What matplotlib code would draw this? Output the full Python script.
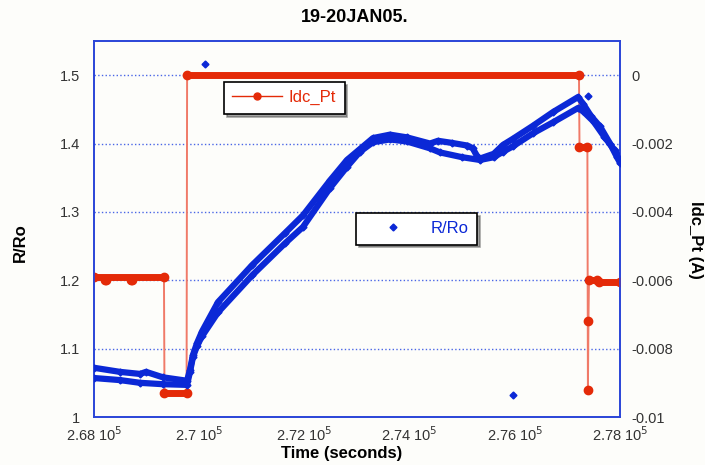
import matplotlib
matplotlib.use("Agg")
import matplotlib.pyplot as plt
from matplotlib.lines import Line2D

plt.rcParams['font.family'] = ['Liberation Sans', 'DejaVu Sans']

# --- data ---
# R/Ro, two interleaved tracks (time in s)
rr_t_a = [268000, 268494, 268875, 268990, 269312, 269768, 269825, 269882, 269958, 270053,
          270357, 271004, 271631, 271973, 272487, 272810, 273057, 273304, 273627, 273951,
          274388, 274540, 274800, 275100, 275200, 275280, 275338, 275600, 275776,
          275966, 276346, 276726, 277202, 277300, 277450, 277620, 277810, 277943, 278000]
rr_a = [1.072, 1.066, 1.063, 1.066, 1.058, 1.053, 1.069, 1.091, 1.108, 1.125,
        1.168, 1.222, 1.269, 1.295, 1.346, 1.376, 1.392, 1.408, 1.413, 1.409,
        1.400, 1.404, 1.401, 1.397, 1.393, 1.382, 1.378, 1.385, 1.398,
        1.407, 1.426, 1.446, 1.468, 1.458, 1.440, 1.425, 1.400, 1.380, 1.372]

rr_t_b = [268000, 268494, 268875, 269312, 269768, 269825, 269882, 269958, 270053,
          270357, 271004, 271631, 271973, 272487, 272810, 273057, 273304, 273627, 273951,
          274388, 274578, 275000, 275338, 275600, 275776, 275966, 276346, 276726, 277202,
          277300, 277500, 277700, 277900, 278000]
rr_b = [1.057, 1.054, 1.050, 1.048, 1.047, 1.066, 1.088, 1.104, 1.118,
        1.153, 1.207, 1.254, 1.278, 1.335, 1.366, 1.388, 1.402, 1.406, 1.403,
        1.393, 1.387, 1.380, 1.376, 1.380, 1.388, 1.396, 1.415, 1.431, 1.452,
        1.447, 1.432, 1.410, 1.390, 1.378]

# stray R/Ro points
rr_out_t = [270110, 275966, 277392]
rr_out = [1.516, 1.032, 1.470]

# Idc_Pt (A)
idc_t = [268000, 269330, 269340, 269760, 269770,
         277220, 277230, 277380, 277390, 277400, 277410, 277570, 277600, 278000]
idc = [-0.0059, -0.0059, -0.0093, -0.0093, 0.0,
       0.0, -0.0021, -0.0021, -0.0092, -0.0072, -0.0060, -0.0060, -0.00605, -0.00605]
# a few readings a touch lower on the first plateau
idc_dip_t = [268200, 268220, 268700, 268720]
idc_dip = [-0.00598, -0.00598, -0.00598, -0.00598]

x_ticks = [268000, 270000, 272000, 274000, 276000, 278000]
x_labels = ['2.68 10$^5$', '2.7 10$^5$', '2.72 10$^5$', '2.74 10$^5$', '2.76 10$^5$', '2.78 10$^5$']
left_ticks = [1, 1.1, 1.2, 1.3, 1.4, 1.5]
left_labels = ['1', '1.1', '1.2', '1.3', '1.4', '1.5']
right_ticks = [-0.01, -0.008, -0.006, -0.004, -0.002, 0]
right_labels = ['-0.01', '-0.008', '-0.006', '-0.004', '-0.002', '0']

BLUE = '#0b28d6'
RED = '#e42a08'
SPINE = '#2a44d8'
GRID = '#4a66e6'
BG = '#fdfdfa'

fig = plt.figure(figsize=(7.05, 4.65), dpi=100, facecolor=BG)
ax = fig.add_axes([94/705, 48/465, 526/705, 376/465])
ax2 = ax.twinx()

# blue drawn over red
ax.set_zorder(ax2.get_zorder() + 1)
ax.patch.set_visible(False)
ax2.patch.set_visible(True)
ax2.patch.set_facecolor(BG)

# Idc_Pt on right axis
ax2.plot(idc_t, idc, color='#f07a68', lw=1.4, zorder=2)
for i in range(len(idc) - 1):
    if abs(idc[i + 1] - idc[i]) < 0.0003:
        ax2.plot(idc_t[i:i + 2], idc[i:i + 2], color=RED, lw=5,
                 solid_capstyle='round', zorder=3)
ax2.plot(idc_t, idc, ls='none', marker='o', ms=6, color=RED, zorder=4)
ax2.plot(idc_dip_t, idc_dip, ls='none', marker='o', ms=6, color=RED, zorder=4)

# R/Ro on left axis
for tt, vv in [(rr_t_a, rr_a), (rr_t_b, rr_b)]:
    ax.plot(tt, vv, color=BLUE, lw=4.5, solid_capstyle='round', zorder=3)
    ax.plot(tt, vv, ls='none', marker='D', ms=3.5, color=BLUE, zorder=4)
ax.plot(rr_out_t, rr_out, ls='none', marker='D', ms=3.5, color=BLUE, zorder=4)

ax.set_xlim(268000, 278000)
ax.set_ylim(1.0, 1.55)
ax2.set_ylim(-0.01, 0.001)

ax.set_xticks(x_ticks)
ax.set_xticklabels(x_labels)
ax.set_yticks(left_ticks)
ax.set_yticklabels(left_labels)
ax2.set_yticks(right_ticks)
ax2.set_yticklabels(right_labels)

for a in (ax, ax2):
    a.tick_params(length=0, labelsize=10.5, colors='#333333', pad=10)
    for s in a.spines.values():
        s.set_color(SPINE)
        s.set_linewidth(1.2)
ax.tick_params(axis='x', pad=6)
ax2.tick_params(axis='y', pad=8)

ax2.grid(True, color=GRID, ls=':', lw=1.0)
ax2.set_axisbelow(True)

fig.text(355/705, 1 - 18/465, '19-20JAN05.', ha='center', va='center',
         fontsize=13, fontweight='bold')
fig.text(342/705, 1 - 453/465, 'Time (seconds)', ha='center', va='center',
         fontsize=12, fontweight='bold')
fig.text(20/705, 1 - 243/465, 'R/Ro', ha='center', va='center', rotation=90,
         fontsize=12, fontweight='bold')
fig.text(695/705, 1 - 240/465, 'Idc_Pt (A)', ha='center', va='center', rotation=270,
         fontsize=12, fontweight='bold')

h_red = Line2D([], [], color=RED, lw=1, marker='o', ms=5)
leg1 = ax2.legend([h_red], ['Idc_Pt'], loc='upper left',
                  bbox_to_anchor=(224/705, 1 - 82/465), bbox_transform=fig.transFigure,
                  frameon=True, fancybox=False, shadow=True, edgecolor='black',
                  framealpha=1, fontsize=12, handlelength=3, handletextpad=0.4,
                  borderpad=0.5, borderaxespad=0, labelcolor=RED)
leg1.get_frame().set_linewidth(1.2)

h_blue = Line2D([], [], color=BLUE, ls='none', marker='D', ms=3.5)
leg2 = ax.legend([h_blue], ['R/Ro'], loc='upper left',
                 bbox_to_anchor=(356/705, 1 - 213/465), bbox_transform=fig.transFigure,
                 frameon=True, fancybox=False, shadow=True, edgecolor='black',
                 framealpha=1, fontsize=12, handlelength=3.4, handletextpad=0.6,
                 borderpad=0.5, borderaxespad=0, labelcolor=BLUE)
leg2.get_frame().set_linewidth(1.2)

fig.savefig('out.png', dpi=100, facecolor=fig.get_facecolor())
